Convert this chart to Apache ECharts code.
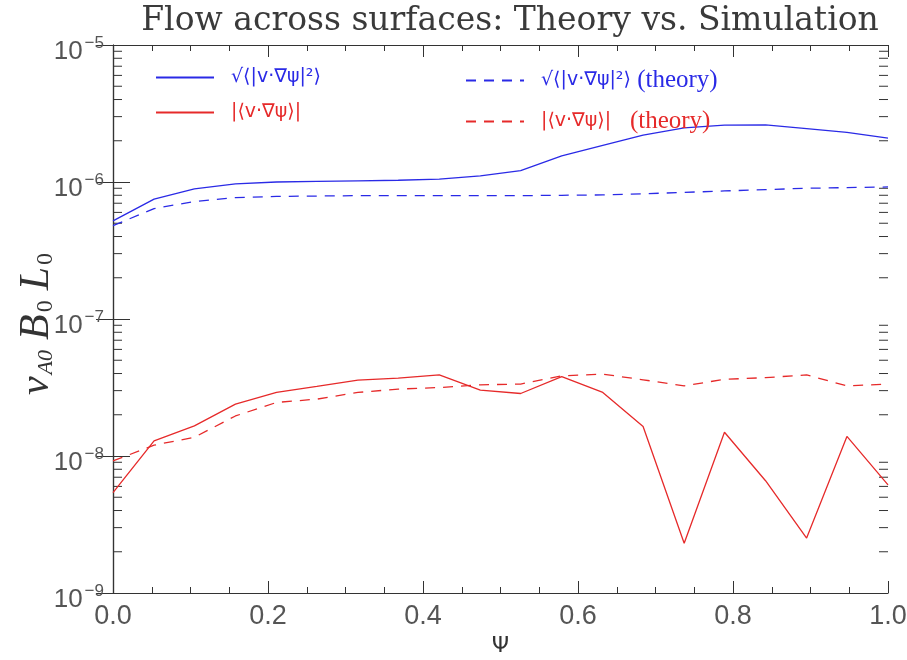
<!DOCTYPE html>
<html><head><meta charset="utf-8">
<script src="https://cdn.jsdelivr.net/npm/echarts@6/dist/echarts.min.js"></script>
<style>html,body{margin:0;padding:0;background:#fff}#c{width:907px;height:660px}</style>
</head><body><div id="c"></div>
<script>
// ---- data ----
const psi = [0.000,0.053,0.105,0.158,0.211,0.263,0.316,0.368,0.421,0.474,0.526,0.579,0.632,0.684,0.737,0.789,0.842,0.895,0.947,1.000];
const rmsSim = [5.2e-7,7.5e-7,8.9e-7,9.7e-7,1.0e-6,1.01e-6,1.02e-6,1.03e-6,1.05e-6,1.11e-6,1.21e-6,1.55e-6,1.85e-6,2.2e-6,2.48e-6,2.6e-6,2.61e-6,2.45e-6,2.3e-6,2.09e-6];
const rmsTheory = [4.8e-7,6.4e-7,7.2e-7,7.7e-7,7.85e-7,7.9e-7,7.95e-7,7.95e-7,7.95e-7,7.95e-7,7.95e-7,8.0e-7,8.05e-7,8.2e-7,8.4e-7,8.6e-7,8.8e-7,9.0e-7,9.1e-7,9.2e-7];
const meanSim = [5.4e-9,1.29e-8,1.66e-8,2.39e-8,2.91e-8,3.22e-8,3.58e-8,3.70e-8,3.91e-8,3.03e-8,2.86e-8,3.80e-8,2.91e-8,1.64e-8,2.31e-9,1.49e-8,6.6e-9,2.52e-9,1.39e-8,6.15e-9];
const meanTheory = [9.2e-9,1.2e-8,1.37e-8,1.96e-8,2.46e-8,2.60e-8,2.91e-8,3.08e-8,3.16e-8,3.31e-8,3.35e-8,3.85e-8,3.96e-8,3.6e-8,3.25e-8,3.63e-8,3.73e-8,3.91e-8,3.25e-8,3.35e-8];
const yDecades = [-9,-8,-7,-6];
const minorMultipliers = [2,3,4,5,6,7,8,9];
const xTickLabels = ['0.0','0.2','0.4','0.6','0.8','1.0'];
const names = ['√⟨|v·∇ψ|²⟩','√⟨|v·∇ψ|²⟩ (theory)','|⟨v·∇ψ⟩|','|⟨v·∇ψ⟩| (theory)'];

// ---- style ----
const BLUE = '#2a2ae6', RED = '#e62a2a', AX = '#333', LBL = '#555';
const yMinor = [];
yDecades.forEach(d => minorMultipliers.forEach(m => yMinor.push([0, m * Math.pow(10, d)])));

const pair = arr => psi.map((x, i) => [x, arr[i]]);

const legendFormatter = name => {
  const idx = names.indexOf(name);
  const c = (idx < 2) ? 'b' : 'r';
  if (name.endsWith(' (theory)')) {
    const m = name.replace(' (theory)', '');
    return '{m' + c + '|' + m + '}{t' + c + '|' + (idx === 3 ? '   ' : ' ') + '(theory)}';
  }
  return '{m' + c + '|' + name + '}';
};
const legendRich = {
  mb: {color: BLUE, fontFamily: 'DejaVu Sans', fontSize: 19},
  mr: {color: RED, fontFamily: 'DejaVu Sans', fontSize: 19},
  tb: {color: BLUE, fontFamily: 'Liberation Serif', fontSize: 25},
  tr: {color: RED, fontFamily: 'Liberation Serif', fontSize: 25}
};
const legendBase = {
  orient: 'vertical', top: 63, itemWidth: 58, itemHeight: 20, itemGap: 16,
  formatter: legendFormatter, selectedMode: false,
  itemStyle: {opacity: 0, color: 'transparent', borderColor: 'transparent', borderWidth: 0},
  textStyle: {rich: legendRich, padding: [0, 0, 0, 12]}
};

const chart = echarts.init(document.getElementById('c'), null, {renderer: 'canvas'});
const xAxisBase = {
  type: 'value', min: 0, max: 1, interval: 0.2,
  axisLine: {show: true, onZero: false, lineStyle: {color: AX, width: 1.2}},
  axisTick: {show: true, inside: true, length: 12, lineStyle: {color: AX}},
  minorTick: {show: true, splitNumber: 4, length: 6, lineStyle: {color: AX}},
  splitLine: {show: false}
};
const yAxisBase = {
  type: 'log', logBase: 10, min: 1e-9, max: 1e-5,
  axisLine: {show: true, lineStyle: {color: AX, width: 1.2}},
  axisTick: {show: true, inside: true, length: 17, lineStyle: {color: AX}},
  splitLine: {show: false}
};
chart.setOption({
  animation: false,
  backgroundColor: '#fff',
  grid: {left: 113, right: 19, top: 45, bottom: 67, outerBoundsMode: 'none', containLabel: false},
  graphic: [{
    type: 'text', x: 510, y: 21,
    style: {text: 'Flow across surfaces: Theory vs. Simulation', fill: '#3a3a3a',
      font: '33px "DejaVu Serif"', textAlign: 'center', textVerticalAlign: 'middle'}
  }],
  legend: [
    Object.assign({}, legendBase, {left: 150, data: [names[0], names[2]]}),
    Object.assign({}, legendBase, {left: 460, data: [names[1], names[3]]})
  ],
  xAxis: [
    Object.assign({}, xAxisBase, {
      position: 'bottom',
      axisLabel: {fontSize: 27, color: LBL, fontFamily: 'Liberation Sans', margin: 10,
        formatter: v => xTickLabels[Math.round(v / 0.2)]},
      name: 'Ψ', nameLocation: 'middle', nameGap: 42, nameMoveOverlap: false,
      nameTextStyle: {fontSize: 22, color: '#333', fontFamily: 'DejaVu Sans'}
    }),
    Object.assign({}, xAxisBase, {position: 'top', axisLabel: {show: false}})
  ],
  yAxis: [
    Object.assign({}, yAxisBase, {
      position: 'left',
      axisLabel: {
        margin: 9,
        padding: [9, 0, 0, 0],
        formatter: v => '{b|10}{s|−' + Math.abs(Math.round(Math.log10(v))) + '}',
        rich: {
          b: {fontSize: 26, color: LBL, fontFamily: 'Liberation Sans', verticalAlign: 'bottom'},
          s: {fontSize: 17, color: LBL, fontFamily: 'Liberation Sans', verticalAlign: 'top', padding: [0, 0, 13, 2]}
        }
      },
      name: '{i|v}{sa|A0}{i|B}{s0|0}{i|L}{s0|0}',
      nameLocation: 'middle', nameGap: 55, nameRotate: 90, nameMoveOverlap: false,
      nameTextStyle: {
        rich: {
          i: {fontFamily: 'Liberation Serif', fontStyle: 'italic', fontSize: 42, color: '#333', padding: [0, 2, 0, 0]},
          sa: {fontFamily: 'Liberation Serif', fontStyle: 'italic', fontSize: 22, color: '#333', padding: [18, 10, 0, 0]},
          s0: {fontFamily: 'Liberation Serif', fontSize: 24, color: '#333', padding: [18, 10, 0, 0]}
        }
      }
    }),
    Object.assign({}, yAxisBase, {position: 'right', axisLabel: {show: false}})
  ],
  series: [
    {name: names[0], type: 'line', data: pair(rmsSim), showSymbol: false, symbol: 'none',
      lineStyle: {color: BLUE, width: 1.3}, itemStyle: {color: BLUE}},
    {name: names[1], type: 'line', data: pair(rmsTheory), showSymbol: false, symbol: 'none',
      lineStyle: {color: BLUE, width: 1.3, type: [10, 8]}, itemStyle: {color: BLUE}},
    {name: names[2], type: 'line', data: pair(meanSim), showSymbol: false, symbol: 'none',
      lineStyle: {color: RED, width: 1.3}, itemStyle: {color: RED}},
    {name: names[3], type: 'line', data: pair(meanTheory), showSymbol: false, symbol: 'none',
      lineStyle: {color: RED, width: 1.3, type: [10, 8]}, itemStyle: {color: RED}},
    {name: 'yMinorTicks', type: 'custom', silent: true, data: yMinor,
      renderItem: (params, api) => {
        const cs = params.coordSys;
        const y = api.coord([0, api.value(1)])[1];
        return {type: 'group', children: [
          {type: 'line', shape: {x1: cs.x, y1: y, x2: cs.x + 9, y2: y}, style: {stroke: AX, lineWidth: 1}},
          {type: 'line', shape: {x1: cs.x + cs.width, y1: y, x2: cs.x + cs.width - 9, y2: y}, style: {stroke: AX, lineWidth: 1}}
        ]};
      }}
  ]
});
</script></body></html>
